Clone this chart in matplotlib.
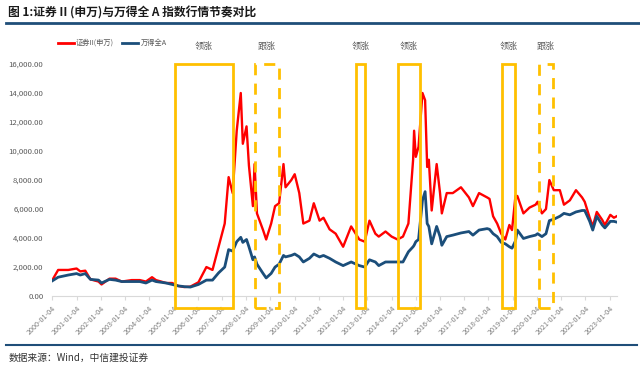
import numpy as np
import pandas as pd
import matplotlib
matplotlib.use('Agg')
import matplotlib.pyplot as plt
import matplotlib.dates as mdates
from matplotlib.patches import Rectangle
from matplotlib.lines import Line2D

plt.rcParams['font.family'] = ['Noto Sans CJK SC', 'DejaVu Sans']

# valores (aprox.)
datas = ['2000-01-04', '2000-04-01', '2000-09-01', '2001-01-04', '2001-03-01', '2001-05-15',
         '2001-08-01', '2001-12-01', '2002-01-15', '2002-05-15', '2002-08-15', '2002-11-15',
         '2003-04-15', '2003-08-15', '2003-11-15', '2004-02-15', '2004-04-15', '2004-09-15',
         '2004-12-15', '2005-03-15', '2005-06-15', '2005-09-15', '2006-01-15', '2006-05-15',
         '2006-08-15', '2006-11-15', '2007-02-15', '2007-04-15', '2007-06-15', '2007-08-15',
         '2007-10-15', '2007-11-15', '2008-01-10', '2008-02-15', '2008-04-15', '2008-05-10',
         '2008-06-15', '2008-09-15', '2008-11-01', '2009-01-15', '2009-03-15', '2009-05-15',
         '2009-07-20', '2009-08-20', '2009-11-15', '2010-01-05', '2010-03-15', '2010-05-15',
         '2010-08-15', '2010-10-20', '2011-01-15', '2011-03-15', '2011-06-15', '2011-09-15',
         '2012-01-05', '2012-05-05', '2012-09-05', '2012-11-25', '2013-02-05', '2013-05-05',
         '2013-06-25', '2013-10-05', '2014-01-05', '2014-04-05', '2014-06-25', '2014-09-15',
         '2014-11-25', '2014-12-10', '2015-01-05', '2015-02-15', '2015-04-15', '2015-05-25',
         '2015-06-25', '2015-07-20', '2015-09-01', '2015-11-15', '2016-01-05', '2016-02-01',
         '2016-04-15', '2016-07-15', '2016-11-15', '2017-03-15', '2017-05-15', '2017-08-15',
         '2017-12-15', '2018-01-20', '2018-03-15', '2018-05-15', '2018-07-15', '2018-09-15',
         '2018-11-15', '2018-12-25', '2019-02-15', '2019-03-15', '2019-06-15', '2019-09-15',
         '2019-12-15', '2020-01-15', '2020-03-20', '2020-05-20', '2020-07-10', '2020-09-15',
         '2020-12-15', '2021-02-15', '2021-05-15', '2021-08-15', '2021-11-15', '2021-12-25',
         '2022-03-10', '2022-04-25', '2022-06-25', '2022-09-15', '2022-10-25', '2023-01-15',
         '2023-03-10', '2023-04-20']

zhengquan = [1100, 1800, 1800, 1900, 1700, 1750,
             1150, 1000, 800, 1200, 1200, 1000,
             1100, 1100, 1000, 1300, 1100, 900,
             900, 700, 620, 650, 950, 2000,
             1800, 3400, 5000, 8200, 7100, 11400,
             14000, 10500, 11700, 9000, 6200, 9100,
             5700, 4550, 3900, 5000, 6200, 6400,
             9100, 7500, 8000, 8400, 7100, 5000,
             5200, 6400, 5200, 5400, 4600, 4300,
             3400, 4800, 3900, 3750, 5200, 4300,
             4100, 4450, 4100, 3900, 4100, 5000,
             9400, 11400, 9600, 10300, 14000, 13500,
             8900, 9400, 5900, 9100, 7100, 5700,
             7100, 7100, 7500, 6800, 6200, 7100,
             6800, 6700, 5500, 5000, 4300, 3900,
             4900, 4550, 6900, 6900, 5700, 6100,
             6300, 6500, 5700, 6000, 8000, 7300,
             7300, 6300, 6600, 7300, 6800, 6500,
             5400, 4800, 5800, 5250, 4900, 5600,
             5400, 5500]

wind_a = [1050, 1300, 1450, 1550, 1450, 1550,
          1150, 1100, 900, 1150, 1100, 1000,
          1000, 1000, 900, 1100, 1000, 900,
          800, 700, 650, 620, 800, 1100,
          1100, 1600, 2000, 3200, 3100, 3750,
          4050, 3700, 3900, 3400, 2500, 2700,
          2200, 1560, 1250, 1560, 2000, 2200,
          2800, 2700, 2800, 2900, 2700, 2350,
          2600, 2900, 2700, 2800, 2600, 2350,
          2100, 2350, 2100, 2000, 2500, 2350,
          2100, 2350, 2350, 2350, 2350, 3050,
          3400, 3500, 3750, 3900, 6600, 7200,
          5000, 4800, 3600, 4800, 4100, 3500,
          4100, 4200, 4350, 4450, 4200, 4550,
          4650, 4600, 4300, 4100, 3700, 3600,
          3400, 3300, 3800, 4550, 3970, 4100,
          4200, 4300, 4100, 4300, 5200, 5300,
          5500, 5700, 5600, 5800, 5900, 5900,
          5150, 4550, 5500, 4900, 4700, 5150,
          5150, 5100]

# períodos: (início, fim, tipo)
periodos_ini = ['2005-01-25', '2008-05-10', '2012-07-15', '2014-04-10', '2018-07-20', '2020-02-10']
periodos_fim = ['2007-06-20', '2009-05-15', '2012-12-05', '2015-03-05', '2019-02-05', '2020-09-01']
periodos_tipo = ['领涨', '跟涨', '领涨', '领涨', '领涨', '跟涨']

x = pd.to_datetime(datas)

fig = plt.figure(figsize=(6.4, 3.71), dpi=100)
ax = fig.add_axes([0.081, 0.202, 0.883, 0.6255])

ax.plot(x, zhengquan, color='#FF0000', lw=1.7, zorder=3)
ax.plot(x, wind_a, color='#1B4E7A', lw=2.0, zorder=4)

ax.set_xlim(pd.Timestamp('1999-12-28'), pd.Timestamp('2023-04-25'))
ax.set_ylim(0, 16000)
ax.set_yticks(np.arange(0, 16001, 2000))
ax.yaxis.set_major_formatter(matplotlib.ticker.FuncFormatter(lambda v, p: '{:,.2f}'.format(v)))

anos = pd.to_datetime(['%d-01-04' % a for a in range(2000, 2024)])
ax.set_xticks(anos)
ax.set_xticklabels([d.strftime('%Y-%m-%d') for d in anos], rotation=45, ha='right',
                   rotation_mode='anchor', fontsize=5.2, color='#7f7f7f')
ax.tick_params(axis='y', length=0, labelsize=5.6, labelcolor='#595959', pad=6)
ax.tick_params(axis='x', length=3, color='#d9d9d9', pad=3)

for s in ['top', 'right', 'left']:
    ax.spines[s].set_visible(False)
ax.spines['bottom'].set_color('#d9d9d9')

for ini, fim, tipo in zip(periodos_ini, periodos_fim, periodos_tipo):
    a = mdates.date2num(pd.Timestamp(ini))
    b = mdates.date2num(pd.Timestamp(fim))
    ls = '-' if tipo == '领涨' else (0, (4, 3))
    r = Rectangle((a, -830), b - a, 16830, fill=False, ec='#FFC000', lw=2.0,
                  ls=ls, clip_on=False, zorder=5)
    ax.add_patch(r)
    ax.text((a + b) / 2, 17200, tipo, ha='center', va='center', fontsize=6.5,
            color='#595959', clip_on=False)

# legenda
hs = [Line2D([], [], color='#FF0000', lw=2), Line2D([], [], color='#1B4E7A', lw=2)]
fig.legend(hs, ['证券II(申万)', '万得全A'], loc='center left', bbox_to_anchor=(0.08, 0.884),
           ncol=2, frameon=False, fontsize=5.2, handlelength=2.2, handletextpad=0.3,
           columnspacing=1.2, labelcolor='#595959')

# título e rodapé
fig.text(0.012, 0.965, '图 1:证券 II (申万)与万得全 A 指数行情节奏对比', fontsize=8.5,
         fontweight='bold', va='center', ha='left', color='#1a1a1a')
fig.add_artist(Line2D([0.01, 1.0], [0.938, 0.938], color='#1F4E79', lw=2.0))
fig.add_artist(Line2D([0.01, 0.995], [0.07, 0.07], color='#1F4E79', lw=1.5))
fig.text(0.014, 0.035, '数据来源：Wind，中信建投证券', fontsize=7, style='italic',
         va='center', ha='left', color='#333333')

plt.savefig('out.png', dpi=100)
